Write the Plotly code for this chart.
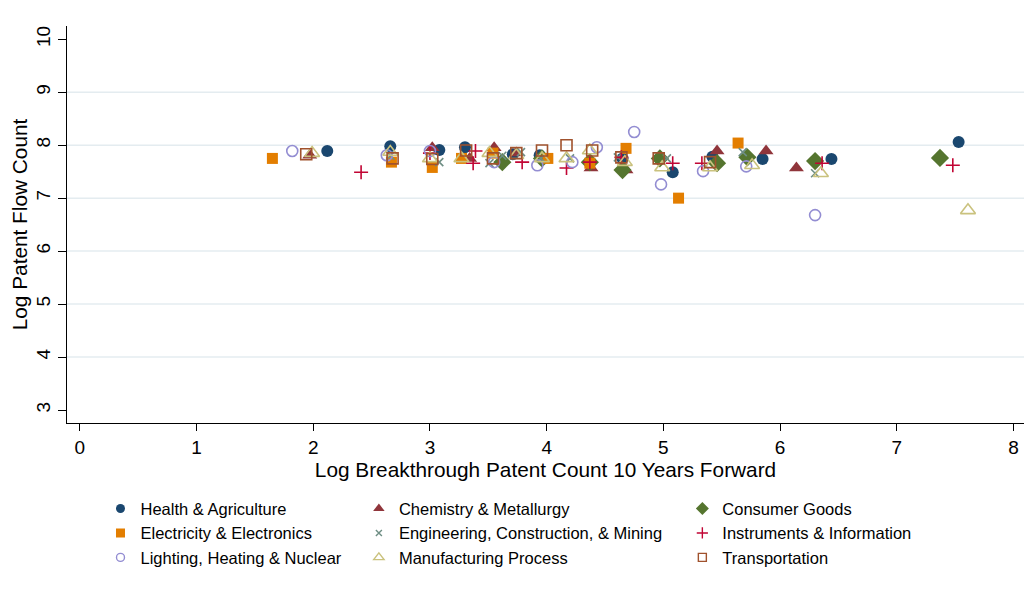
import plotly.graph_objects as go

# ---- data ----
health_x = [2.12, 2.66, 3.08, 3.30, 3.71, 3.94, 4.65, 5.08, 5.42, 5.85, 6.44, 7.53]
health_y = [7.89, 7.98, 7.91, 7.96, 7.83, 7.81, 7.75, 7.49, 7.78, 7.74, 7.74, 8.06]

chem_x = [1.97, 3.02, 3.34, 3.55, 3.74, 4.38, 4.68, 5.46, 5.88, 6.14]
chem_y = [7.81, 7.95, 7.75, 7.95, 7.85, 7.57, 7.53, 7.89, 7.89, 7.57]

cons_x = [3.62, 3.96, 4.37, 4.65, 4.97, 5.46, 5.72, 6.30, 7.37]
cons_y = [7.68, 7.75, 7.68, 7.53, 7.75, 7.66, 7.77, 7.70, 7.76]

elec_x = [1.65, 2.67, 3.02, 3.27, 3.54, 4.01, 4.37, 4.68, 5.13, 5.64]
elec_y = [7.75, 7.68, 7.58, 7.75, 7.85, 7.75, 7.66, 7.94, 7.00, 8.04]

eng_x = [2.66, 3.08, 3.51, 3.62, 3.78, 3.95, 4.20, 4.61, 5.03, 5.68, 6.30]
eng_y = [7.80, 7.68, 7.66, 7.80, 7.87, 7.75, 7.75, 7.77, 7.75, 7.87, 7.47]

inst_x = [2.41, 3.00, 3.37, 3.39, 3.79, 4.17, 4.37, 4.64, 5.08, 5.33, 6.36, 7.48]
inst_y = [7.49, 7.85, 7.66, 7.89, 7.68, 7.57, 7.68, 7.77, 7.66, 7.66, 7.66, 7.62]

light_x = [1.82, 2.63, 3.00, 3.55, 3.92, 4.22, 4.43, 4.75, 4.98, 5.34, 5.71, 6.30]
light_y = [7.89, 7.81, 7.89, 7.68, 7.62, 7.68, 7.96, 8.25, 7.26, 7.51, 7.60, 6.68]

manu_x = [1.99, 2.66, 3.00, 3.27, 3.51, 3.74, 3.96, 4.17, 4.37, 4.67, 4.99, 5.40, 5.76, 6.35, 7.61]
manu_y = [7.85, 7.87, 7.75, 7.75, 7.85, 7.81, 7.75, 7.75, 7.90, 7.68, 7.58, 7.58, 7.62, 7.47, 6.77]

trans_x = [1.94, 2.68, 3.02, 3.31, 3.54, 3.74, 3.96, 4.17, 4.39, 4.64, 4.96, 5.40]
trans_y = [7.83, 7.75, 7.74, 7.90, 7.75, 7.85, 7.90, 8.00, 7.90, 7.77, 7.75, 7.68]

x_ticks = [0, 1, 2, 3, 4, 5, 6, 7, 8]
y_ticks = [3, 4, 5, 6, 7, 8, 9, 10]
grid_y = [4, 5, 6, 7, 8, 9]

# name, x, y, symbol, colour, plot size, line width, legend column, legend size
series = [
    ("Health & Agriculture", health_x, health_y, "circle", "#1a476f", 12, 0, "legend", 9),
    ("Electricity & Electronics", elec_x, elec_y, "square", "#e37e00", 11, 0, "legend", 9),
    ("Lighting, Heating & Nuclear", light_x, light_y, "circle-open", "#938dd2", 11, 1.6, "legend", 8),
    ("Chemistry & Metallurgy", chem_x, chem_y, "triangle-up", "#90353b", 13, 0, "legend2", 10),
    ("Engineering, Construction, & Mining", eng_x, eng_y, "x-thin-open", "#6e8e84", 8, 1.6, "legend2", 6),
    ("Manufacturing Process", manu_x, manu_y, "triangle-up-open", "#cac27e", 13, 1.6, "legend2", 9),
    ("Consumer Goods", cons_x, cons_y, "diamond", "#55752f", 14, 0, "legend3", 10),
    ("Instruments & Information", inst_x, inst_y, "cross-thin-open", "#c10534", 10, 1.6, "legend3", 8),
    ("Transportation", trans_x, trans_y, "square-open", "#a0522d", 11, 1.6, "legend3", 8),
]
draw_order = [0, 3, 6, 1, 4, 7, 2, 5, 8]

fig = go.Figure()
for i in draw_order:
    name, xs, ys, sym, col, size, lw, leg, lsize = series[i]
    fig.add_trace(go.Scatter(
        x=xs, y=ys, mode="markers", name=name, showlegend=False, legendgroup=name,
        marker=dict(symbol=sym, color=col, size=size,
                    line=dict(width=lw, color=col)),
    ))
for i in range(len(series)):
    name, xs, ys, sym, col, size, lw, leg, lsize = series[i]
    fig.add_trace(go.Scatter(
        x=[None], y=[None], mode="markers", name=name, legend=leg, legendgroup=name,
        marker=dict(symbol=sym, color=col, size=lsize,
                    line=dict(width=min(lw, 1.4), color=col)),
    ))

shapes = [dict(type="line", xref="paper", x0=0, x1=1, yref="y", y0=g, y1=g,
               line=dict(color="#e4ecf0", width=1.5), layer="below") for g in grid_y]

font = "Liberation Sans, Arial, sans-serif"
leg_common = dict(orientation="v", yanchor="top", xanchor="left",
                  font=dict(family=font, size=16.5, color="black"),
                  bgcolor="rgba(0,0,0,0)", tracegroupgap=0, itemwidth=30)

fig.update_layout(
    width=1026, height=596,
    margin=dict(l=67, r=2, t=26, b=173, autoexpand=False),
    paper_bgcolor="white", plot_bgcolor="white",
    font=dict(family=font, size=19, color="black"),
    shapes=shapes,
    xaxis=dict(range=[-0.11, 8.09], tickvals=x_ticks, ticks="outside", ticklen=7,
               tickcolor="black", tickwidth=1, showline=True, linecolor="black",
               linewidth=1, showgrid=False, zeroline=False, automargin=False,
               tickfont=dict(family=font, size=19),
               title=dict(text="Log Breakthrough Patent Count 10 Years Forward",
                          font=dict(family=font, size=20.8), standoff=1)),
    yaxis=dict(range=[2.755, 10.25], tickvals=y_ticks, ticks="outside", ticklen=8,
               tickcolor="black", tickwidth=1, showline=True, linecolor="black",
               linewidth=1, showgrid=False, zeroline=False, tickangle=-90,
               automargin=False,
               tickfont=dict(family=font, size=19),
               title=dict(text="Log Patent Flow Count",
                          font=dict(family=font, size=20.8), standoff=0)),
    legend=dict(x=0.035, y=-0.172, **leg_common),
    legend2=dict(x=0.305, y=-0.172, **leg_common),
    legend3=dict(x=0.643, y=-0.172, **leg_common),
)

fig.write_html("out.html", config={"displayModeBar": False},
               post_script="document.body.style.margin='0px';")
